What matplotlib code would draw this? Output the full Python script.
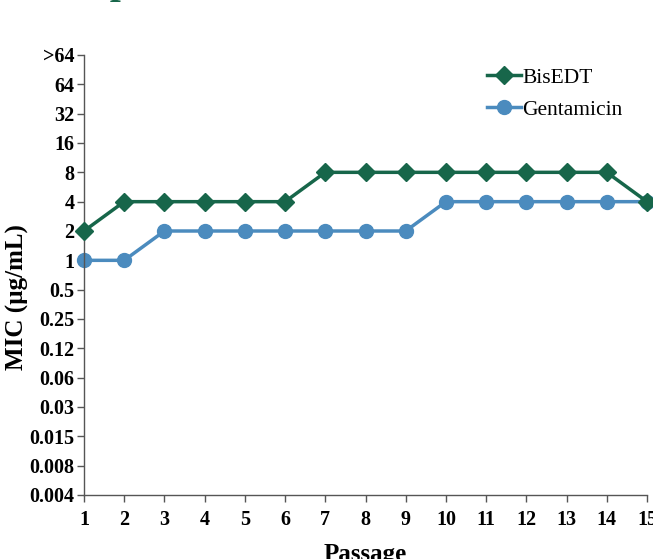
import matplotlib.pyplot as plt

# MIC levels (categorical, log2 steps)
mic_levels = ["0.004", "0.008", "0.015", "0.03", "0.06", "0.12", "0.25", "0.5",
              "1", "2", "4", "8", "16", "32", "64", ">64"]
passages = list(range(1, 16))
bisedt = ["2", "4", "4", "4", "4", "4", "8", "8", "8", "8", "8", "8", "8", "8", "4"]
gentamicin = ["1", "1", "2", "2", "2", "2", "2", "2", "2", "4", "4", "4", "4", "4", "4"]

green = "#17664a"
blue = "#4b8bbe"

plt.rcParams['font.family'] = ['Liberation Serif', 'DejaVu Serif']

fig = plt.figure(figsize=(6.53, 5.59), dpi=100)
ax = fig.add_axes([84 / 653, 1 - 495 / 559, (647 - 84) / 653, (495 - 55) / 559])

# map MIC strings to level index
bis_y = [mic_levels.index(v) for v in bisedt]
gen_y = [mic_levels.index(v) for v in gentamicin]

ax.plot(passages, bis_y, color=green, marker="D", markersize=9, linewidth=2.5, label="BisEDT", clip_on=False, zorder=3)
ax.plot(passages, gen_y, color=blue, marker="o", markersize=10, linewidth=2.5, label="Gentamicin", clip_on=False, zorder=2)

ax.set_xlim(1, 15)
ax.set_ylim(0, len(mic_levels) - 1)
ax.set_xticks(passages)
ax.set_xticklabels([str(p) for p in passages], fontsize=14.5, fontweight="bold")
ax.set_yticks(range(len(mic_levels)))
ax.set_yticklabels(mic_levels, fontsize=14.5, fontweight="bold")
ax.tick_params(axis="both", direction="out", length=5, color="#555555", width=1)
ax.tick_params(axis="x", pad=6)
ax.tick_params(axis="y", pad=2)

for s in ["top", "right"]:
    ax.spines[s].set_visible(False)
for s in ["left", "bottom"]:
    ax.spines[s].set_color("#555555")
    ax.spines[s].set_linewidth(1)

ax.set_ylabel("MIC (µg/mL)", fontsize=18, fontweight="bold")
ax.yaxis.set_label_coords(-0.097, 0.45)
ax.set_xlabel("Passage", fontsize=18, fontweight="bold")
ax.xaxis.set_label_coords(0.5, -0.108)

ax.legend(loc="upper left", bbox_to_anchor=(478 / 653, 1 - 59 / 559), bbox_transform=fig.transFigure,
          frameon=False, fontsize=15.5, handlelength=1.6, handletextpad=0.05, labelspacing=0.55, borderaxespad=0)

# cut-off title fragment at the top
fig.text(0.172, 1.012, "p", color=green, fontsize=28, fontweight="bold", style="italic", va="baseline")

fig.savefig("out.png", dpi=100)
